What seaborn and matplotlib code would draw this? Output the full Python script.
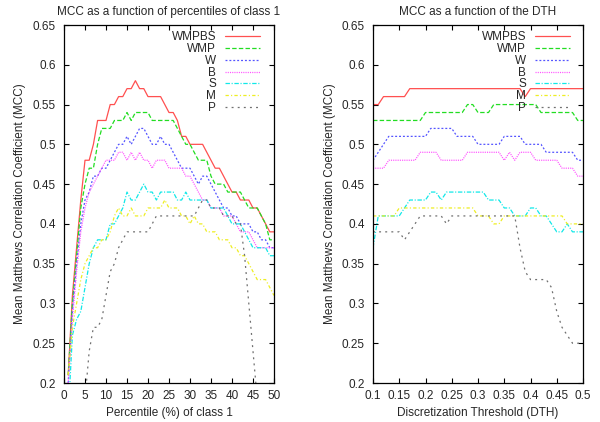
import matplotlib
matplotlib.use('Agg')
import matplotlib.pyplot as plt
import seaborn as sns

# -----------------------------------------------------------------------------
# data

percentiles = list(range(1, 51))
pct_p = list(range(5, 47))  # P leaves the bottom of the axes beyond these

pct_wmpbs = [0.21, 0.31, 0.37, 0.43, 0.48, 0.48, 0.50, 0.53, 0.53, 0.53,
             0.55, 0.55, 0.56, 0.56, 0.57, 0.57, 0.58, 0.57, 0.57, 0.56,
             0.56, 0.56, 0.56, 0.55, 0.54, 0.54, 0.53, 0.51, 0.51, 0.50,
             0.50, 0.50, 0.50, 0.49, 0.48, 0.47, 0.47, 0.46, 0.45, 0.44,
             0.44, 0.43, 0.43, 0.43, 0.42, 0.42, 0.41, 0.40, 0.39, 0.39]
pct_wmp = [0.21, 0.30, 0.36, 0.42, 0.45, 0.47, 0.47, 0.50, 0.52, 0.52,
           0.52, 0.53, 0.53, 0.53, 0.54, 0.53, 0.54, 0.54, 0.54, 0.54,
           0.53, 0.53, 0.53, 0.53, 0.53, 0.53, 0.52, 0.51, 0.50, 0.50,
           0.49, 0.48, 0.48, 0.48, 0.46, 0.45, 0.45, 0.45, 0.44, 0.44,
           0.44, 0.44, 0.43, 0.42, 0.42, 0.42, 0.41, 0.40, 0.38, 0.38]
pct_w = [0.20, 0.29, 0.35, 0.40, 0.43, 0.44, 0.46, 0.46, 0.47, 0.47,
         0.48, 0.49, 0.50, 0.50, 0.51, 0.50, 0.51, 0.52, 0.52, 0.51,
         0.50, 0.50, 0.51, 0.50, 0.50, 0.49, 0.48, 0.47, 0.47, 0.47,
         0.46, 0.45, 0.46, 0.46, 0.45, 0.44, 0.43, 0.42, 0.42, 0.41,
         0.41, 0.40, 0.40, 0.40, 0.39, 0.39, 0.38, 0.38, 0.37, 0.37]
pct_b = [0.20, 0.28, 0.34, 0.39, 0.42, 0.44, 0.45, 0.46, 0.47, 0.48,
         0.48, 0.48, 0.49, 0.49, 0.48, 0.49, 0.48, 0.49, 0.48, 0.48,
         0.47, 0.48, 0.48, 0.48, 0.47, 0.47, 0.47, 0.47, 0.46, 0.46,
         0.45, 0.44, 0.43, 0.43, 0.42, 0.42, 0.42, 0.41, 0.41, 0.41,
         0.40, 0.39, 0.39, 0.39, 0.38, 0.37, 0.37, 0.37, 0.37, 0.37]
pct_s = [0.16, 0.26, 0.28, 0.29, 0.32, 0.35, 0.37, 0.38, 0.38, 0.38,
         0.40, 0.40, 0.41, 0.42, 0.44, 0.43, 0.43, 0.44, 0.45, 0.44,
         0.44, 0.43, 0.44, 0.44, 0.44, 0.44, 0.43, 0.43, 0.44, 0.43,
         0.43, 0.43, 0.43, 0.43, 0.42, 0.42, 0.42, 0.42, 0.41, 0.40,
         0.40, 0.40, 0.39, 0.38, 0.37, 0.37, 0.37, 0.37, 0.36, 0.36]
pct_m = [0.21, 0.27, 0.30, 0.33, 0.35, 0.36, 0.37, 0.37, 0.38, 0.38,
         0.39, 0.41, 0.42, 0.41, 0.41, 0.42, 0.41, 0.41, 0.41, 0.42,
         0.42, 0.42, 0.42, 0.43, 0.42, 0.42, 0.42, 0.41, 0.41, 0.40,
         0.41, 0.40, 0.40, 0.39, 0.39, 0.39, 0.38, 0.38, 0.38, 0.37,
         0.37, 0.36, 0.36, 0.35, 0.34, 0.33, 0.33, 0.33, 0.32, 0.31]
pct_pp = [0.18, 0.24, 0.27, 0.27, 0.28, 0.31, 0.34, 0.35, 0.37, 0.38,
          0.39, 0.39, 0.39, 0.39, 0.39, 0.39, 0.40, 0.41, 0.41, 0.41,
          0.41, 0.41, 0.41, 0.41, 0.41, 0.41, 0.41, 0.42, 0.43, 0.43,
          0.42, 0.42, 0.42, 0.41, 0.41, 0.41, 0.40, 0.40, 0.36, 0.30,
          0.24, 0.18]

dth = [round(0.10 + 0.01 * i, 2) for i in range(41)]

dth_wmpbs = [0.55, 0.55, 0.56, 0.56, 0.56, 0.56, 0.56, 0.57, 0.57, 0.57,
             0.57, 0.57, 0.57, 0.57, 0.57, 0.57, 0.57, 0.57, 0.57, 0.57,
             0.57, 0.57, 0.57, 0.57, 0.57, 0.57, 0.57, 0.57, 0.57, 0.56,
             0.57, 0.57, 0.57, 0.57, 0.57, 0.57, 0.57, 0.57, 0.57, 0.57,
             0.57]
dth_wmp = [0.53, 0.53, 0.53, 0.53, 0.53, 0.53, 0.53, 0.53, 0.53, 0.53,
           0.54, 0.54, 0.54, 0.54, 0.54, 0.54, 0.54, 0.54, 0.55, 0.55,
           0.54, 0.54, 0.54, 0.55, 0.55, 0.55, 0.55, 0.55, 0.55, 0.55,
           0.55, 0.55, 0.54, 0.54, 0.54, 0.54, 0.54, 0.54, 0.54, 0.53,
           0.53]
dth_w = [0.48, 0.49, 0.50, 0.51, 0.51, 0.51, 0.51, 0.51, 0.51, 0.51,
         0.51, 0.52, 0.52, 0.52, 0.52, 0.52, 0.51, 0.51, 0.51, 0.51,
         0.50, 0.50, 0.50, 0.50, 0.50, 0.51, 0.51, 0.51, 0.51, 0.50,
         0.50, 0.50, 0.50, 0.49, 0.49, 0.49, 0.49, 0.49, 0.49, 0.48,
         0.48]
dth_b = [0.47, 0.47, 0.47, 0.48, 0.48, 0.48, 0.48, 0.48, 0.48, 0.49,
         0.49, 0.49, 0.49, 0.48, 0.48, 0.48, 0.48, 0.48, 0.49, 0.49,
         0.49, 0.49, 0.49, 0.49, 0.49, 0.48, 0.49, 0.48, 0.49, 0.49,
         0.49, 0.48, 0.48, 0.48, 0.48, 0.48, 0.47, 0.47, 0.47, 0.46,
         0.46]
dth_s = [0.37, 0.41, 0.41, 0.41, 0.41, 0.41, 0.42, 0.43, 0.43, 0.43,
         0.43, 0.44, 0.44, 0.43, 0.44, 0.44, 0.44, 0.44, 0.44, 0.44,
         0.44, 0.44, 0.43, 0.43, 0.43, 0.42, 0.42, 0.41, 0.41, 0.41,
         0.42, 0.42, 0.41, 0.41, 0.40, 0.39, 0.39, 0.40, 0.39, 0.39,
         0.39]
dth_m = [0.41, 0.41, 0.41, 0.41, 0.41, 0.42, 0.42, 0.42, 0.42, 0.42,
         0.42, 0.42, 0.42, 0.42, 0.42, 0.42, 0.42, 0.42, 0.42, 0.42,
         0.41, 0.41, 0.41, 0.40, 0.40, 0.41, 0.41, 0.41, 0.41, 0.41,
         0.41, 0.41, 0.41, 0.41, 0.41, 0.41, 0.41, 0.40, 0.40, 0.40,
         0.40]
dth_p = [0.39, 0.39, 0.39, 0.39, 0.39, 0.39, 0.38, 0.39, 0.40, 0.41,
         0.41, 0.41, 0.41, 0.41, 0.40, 0.41, 0.41, 0.41, 0.41, 0.41,
         0.41, 0.41, 0.41, 0.41, 0.41, 0.41, 0.41, 0.41, 0.37, 0.34,
         0.33, 0.33, 0.33, 0.33, 0.32, 0.29, 0.27, 0.26, 0.25, 0.25,
         0.25]

names = ['WMPBS', 'WMP', 'W', 'B', 'S', 'M', 'P']
colors = ['#ff5050', '#22dd22', '#5555ff', '#ff55ff', '#11e8e8', '#eeee22',
          '#707070']
styles = ['-', (0, (3.2, 1.6)), (0, (1.4, 1.4)), (0, (0.8, 0.8)),
          (0, (3.2, 1.2, 0.8, 1.2)), (0, (2.4, 1.6, 0.8, 1.6)),
          (0, (1.4, 3.0))]

# -----------------------------------------------------------------------------
# plot

sns.set_style('ticks')
plt.rcParams['font.family'] = ['Liberation Sans', 'DejaVu Sans']
plt.rcParams['font.size'] = 8.5
plt.rcParams['lines.scale_dashes'] = False

fig = plt.figure(figsize=(6, 4.22), dpi=100)
ax_l = fig.add_axes([64 / 600, 1 - 383 / 422, 210 / 600, 358 / 422])
ax_r = fig.add_axes([373 / 600, 1 - 383 / 422, 210 / 600, 358 / 422])

left_series = [(percentiles, pct_wmpbs), (percentiles, pct_wmp),
               (percentiles, pct_w), (percentiles, pct_b),
               (percentiles, pct_s), (percentiles, pct_m), (pct_p, pct_pp)]
right_series = [(dth, dth_wmpbs), (dth, dth_wmp), (dth, dth_w), (dth, dth_b),
                (dth, dth_s), (dth, dth_m), (dth, dth_p)]

for ax, series in [(ax_l, left_series), (ax_r, right_series)]:
    for (xs, ys), name, col, ls in zip(series, names, colors, styles):
        sns.lineplot(x=xs, y=ys, ax=ax, color=col, linestyle=ls, lw=0.9,
                     label=name, estimator=None, sort=False)

ax_l.set(xlim=(0, 50), ylim=(0.2, 0.65), xticks=range(0, 51, 5))
ax_l.set_xlabel('Percentile (%) of class 1')
ax_l.set_title('MCC as a function of percentiles of class 1', pad=7,
               fontsize=8.5)
ax_r.set(xlim=(0.1, 0.5), ylim=(0.2, 0.65),
         xticks=[0.1, 0.15, 0.2, 0.25, 0.3, 0.35, 0.4, 0.45, 0.5])
ax_r.set_xticklabels(['0.1', '0.15', '0.2', '0.25', '0.3', '0.35', '0.4',
                      '0.45', '0.5'])
ax_r.set_xlabel('Discretization Threshold (DTH)')
ax_r.set_title('MCC as a function of the DTH', pad=7, fontsize=8.5)

yt = [0.2, 0.25, 0.3, 0.35, 0.4, 0.45, 0.5, 0.55, 0.6, 0.65]
for ax, lx in [(ax_l, -0.21), (ax_r, -0.205)]:
    ax.set_yticks(yt)
    ax.set_yticklabels(['0.2', '0.25', '0.3', '0.35', '0.4', '0.45', '0.5',
                        '0.55', '0.6', '0.65'])
    ax.set_ylabel('Mean Matthews Correlation Coefficient (MCC)')
    ax.yaxis.label.set_va('center')
    ax.xaxis.label.set_va('center')
    ax.yaxis.set_label_coords(lx, 0.5)
    ax.xaxis.set_label_coords(0.5, -0.084)
    ax.tick_params(direction='in', top=True, right=True, length=3.6,
                   width=0.8, labelsize=8.5, color='black')
    ax.tick_params(axis='y', pad=6)
    ax.tick_params(axis='x', pad=5)
    for sp in ax.spines.values():
        sp.set_visible(True)
        sp.set_linewidth(0.9)
        sp.set_color('black')
    ax.set_facecolor('white')

for ax, ax_x in [(ax_l, 0.933), (ax_r, 0.938)]:
    leg = ax.legend(loc='upper right', bbox_to_anchor=(ax_x, 0.982),
                    frameon=False, markerfirst=False, handlelength=3.0,
                    handletextpad=0.7, labelspacing=-0.02, borderpad=0,
                    borderaxespad=0, fontsize=8.5)
    for col in leg._legend_handle_box.get_children():
        col.align = 'right'

fig.savefig('out.png', dpi=100)
